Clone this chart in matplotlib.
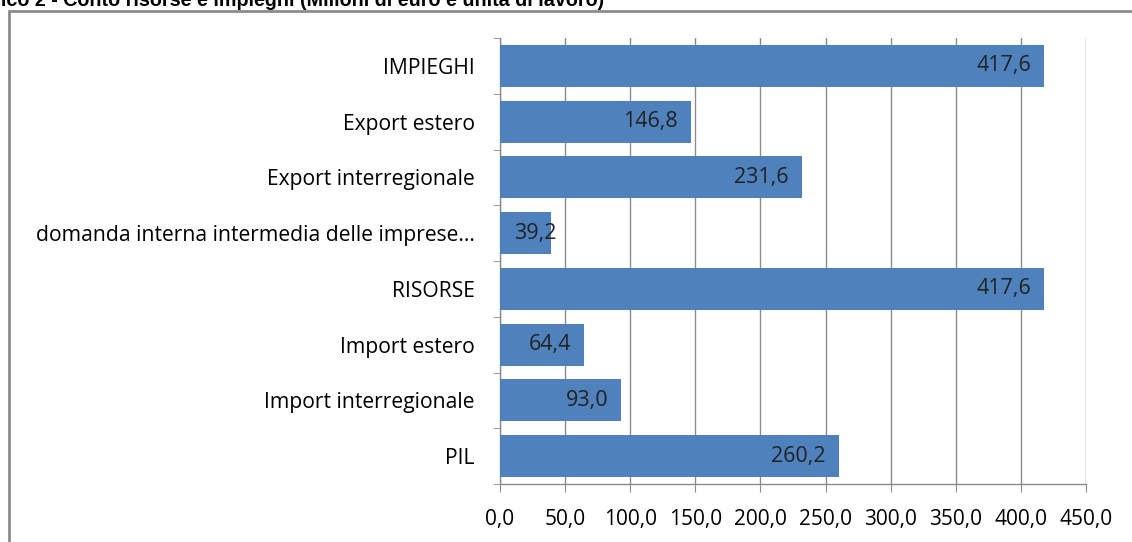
import matplotlib
matplotlib.use('Agg')
import matplotlib.pyplot as plt
from matplotlib.patches import Rectangle
from matplotlib.ticker import MultipleLocator, FuncFormatter

# categories listed top to bottom
categories = ['IMPIEGHI', 'Export estero', 'Export interregionale',
              'domanda interna intermedia delle imprese...', 'RISORSE',
              'Import estero', 'Import interregionale', 'PIL']
values = [417.6, 146.8, 231.6, 39.2, 417.6, 64.4, 93.0, 260.2]
title = 'Grafico 2 - Conto risorse e impieghi (Milioni di euro e unità di lavoro)'

plt.rcParams['font.family'] = ['Open Sans', 'DejaVu Sans']

W, H = 1132, 542
fig = plt.figure(figsize=(W / 100, H / 100), dpi=100)

# chart frame (cut off at right and bottom)
fig.patches.append(Rectangle((8.5 / W, -0.1), 1.2, 1 - 11 / H + 0.1, transform=fig.transFigure,
                             fill=False, edgecolor='#8c8c8c', linewidth=2))

# title, partly clipped at top edge
fig.text(604 / W, 1 - 6 / H, title, fontsize=14.2, fontweight='bold',
         family=['Liberation Sans', 'DejaVu Sans'], va='baseline', ha='right')

ax = fig.add_axes([500 / W, 1 - 484 / H, 586 / W, 446 / H])
y = list(range(len(categories)))
bars = ax.barh(y, values, height=0.75, color='#4F81BD', zorder=3)
ax.set_ylim(len(categories) - 0.5, -0.5)
ax.set_xlim(0, 450)

ax.set_yticks(y)
ax.set_yticklabels(categories, fontsize=15.2)
ax.set_yticks([i + 0.5 for i in range(-1, len(categories))], minor=True)
ax.tick_params(axis='y', which='major', length=0, pad=18)
ax.tick_params(axis='y', which='minor', length=5, color='#8c8c8c')

ax.xaxis.set_major_locator(MultipleLocator(50))
ax.xaxis.set_major_formatter(FuncFormatter(lambda v, p: f'{v:.1f}'.replace('.', ',')))
ax.tick_params(axis='x', length=6, color='#8c8c8c', labelsize=15, pad=12)
ax.grid(True, axis='x', color='#8c8c8c', linewidth=1, zorder=0)

for s in ['top', 'right']:
    ax.spines[s].set_visible(False)
for s in ['left', 'bottom']:
    ax.spines[s].set_color('#8c8c8c')
    ax.spines[s].set_linewidth(1)

for bar, val in zip(bars, values):
    lbl = f'{val:.1f}'.replace('.', ',')
    yc = bar.get_y() + bar.get_height() / 2
    if val < 50:
        # too short for an inside-end label: start it near the bar base
        ax.text(11, yc, lbl, ha='left', va='center', fontsize=15.5,
                color='#222222', zorder=4)
    else:
        ax.text(bar.get_width() - 10, yc, lbl, ha='right', va='center',
                fontsize=15.5, color='#222222', zorder=4)

fig.savefig('out.png', dpi=100)
